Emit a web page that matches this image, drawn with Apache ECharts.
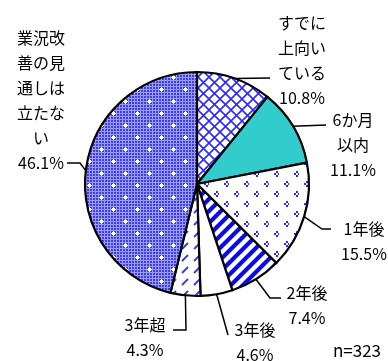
<!DOCTYPE html>
<html><head><meta charset="utf-8">
<script src="https://cdn.jsdelivr.net/npm/echarts@6/dist/echarts.min.js"></script>
<style>html,body{margin:0;padding:0;background:#fff}#c{width:388px;height:361px}</style>
</head><body><div id="c"></div>
<script>
const categories = ['すでに\n上向い\nている', '6か月\n以内', '1年後', '2年後', '3年後', '3年超', '業況改\n善の見\n通しは\n立たな\nい'];
const values = [10.8, 11.1, 15.5, 7.4, 4.6, 4.3, 46.1];
const sampleLabel = 'n=323';

function tile(w, h, draw) {
  const c = document.createElement('canvas');
  c.width = w; c.height = h;
  const g = c.getContext('2d');
  draw(g, w, h);
  return c;
}
const blue = '#2a2aff';
const patCross = tile(11, 11, (g, w, h) => {
  g.fillStyle = '#fff'; g.fillRect(0, 0, w, h);
  g.strokeStyle = blue; g.lineWidth = 1.6;
  g.beginPath(); g.moveTo(0, 0); g.lineTo(11, 11); g.moveTo(11, 0); g.lineTo(0, 11); g.stroke();
});
const patChevron = tile(20, 20, (g, w, h) => {
  g.fillStyle = '#fff'; g.fillRect(0, 0, w, h);
  g.fillStyle = '#2a2aff';
  [[4, 4], [14, 14]].forEach(([x, y]) => {
    g.fillRect(x + 2, y - 3, 2, 2);
    g.fillRect(x, y - 1, 2, 2);
    g.fillRect(x + 2, y + 1, 2, 2);
    g.fillRect(x + 4, y - 1, 1, 2);
  });
});
const patStripe = tile(12, 12, (g, w, h) => {
  g.fillStyle = '#fff'; g.fillRect(0, 0, w, h);
  g.strokeStyle = '#0a0aee'; g.lineWidth = 4.2;
  g.beginPath();
  g.moveTo(-6, 6); g.lineTo(6, -6);
  g.moveTo(0, 12); g.lineTo(12, 0);
  g.moveTo(6, 18); g.lineTo(18, 6);
  g.stroke();
});
const patDash = tile(12, 12, (g, w, h) => {
  g.fillStyle = '#fff'; g.fillRect(0, 0, w, h);
  g.strokeStyle = '#3a3aff'; g.lineWidth = 2;
  g.beginPath(); g.moveTo(2, 9); g.lineTo(8, 3); g.stroke();
});
const patDense = tile(24, 24, (g, w, h) => {
  g.fillStyle = '#9c9cff'; g.fillRect(0, 0, w, h);
  g.fillStyle = '#3c3cf0';
  for (let x = 0; x < w; x += 3) for (let y = 0; y < h; y += 3) g.fillRect(x, y, 2, 2);
  g.fillStyle = '#fff';
  [[5, 5], [17, 17]].forEach(([x, y]) => {
    g.fillRect(x - 2, y, 5, 1); g.fillRect(x, y - 2, 1, 5);
    g.fillRect(x - 1, y - 1, 3, 3);
  });
});

const fills = [
  { image: patCross, repeat: 'repeat' },
  '#33cccc',
  { image: patChevron, repeat: 'repeat' },
  { image: patStripe, repeat: 'repeat' },
  '#ffffff',
  { image: patDash, repeat: 'repeat' },
  { image: patDense, repeat: 'repeat' }
];

// label layout: block centre and polyline elbows (style only)
const labelPos = [
  { x: 302, y: 60, pts: [[270, 78]] },
  { x: 353, y: 145, pts: [[326, 125]] },
  { x: 364, y: 241, pts: [[322, 229], [331, 229]] },
  { x: 307, y: 305, pts: [[270, 298], [281, 298]] },
  { x: 255, y: 342, pts: [[228, 335]] },
  { x: 145, y: 337, pts: [[186, 330], [173, 330]] },
  { x: 41, y: 100, pts: [[80, 163], [67, 163]] }
];

const chart = echarts.init(document.getElementById('c'), null, { renderer: 'canvas' });
chart.setOption({
  animation: false,
  backgroundColor: '#fff',
  graphic: [{
    type: 'text', right: 7, top: 342,
    style: { text: sampleLabel, font: '17px "Noto Sans CJK JP"', fill: '#000' }
  }],
  series: [{
    type: 'pie',
    center: [197, 184],
    radius: 112,
    startAngle: 90,
    clockwise: true,
    avoidLabelOverlap: false,
    silent: true,
    data: categories.map((n, i) => ({ name: n, value: values[i], itemStyle: { color: fills[i] } })),
    itemStyle: { borderColor: '#000', borderWidth: 2.2 },
    label: {
      show: true,
      position: 'outside',
      fontFamily: '"Noto Sans CJK JP"',
      fontSize: 16,
      lineHeight: 25,
      color: '#000',
      align: 'center',
      formatter: p => p.name + '\n' + p.value.toFixed(1) + '%'
    },
    labelLine: { show: true, length: 10, length2: 10, lineStyle: { color: '#000', width: 1.5 } },
    labelLayout: function (params) {
      const L = labelPos[params.dataIndex];
      const start = params.labelLinePoints ? params.labelLinePoints[0] : null;
      const out = { x: L.x, y: L.y, align: 'center', verticalAlign: 'middle' };
      if (start) out.labelLinePoints = [start].concat(L.pts);
      return out;
    }
  }]
});
</script>
</body></html>
